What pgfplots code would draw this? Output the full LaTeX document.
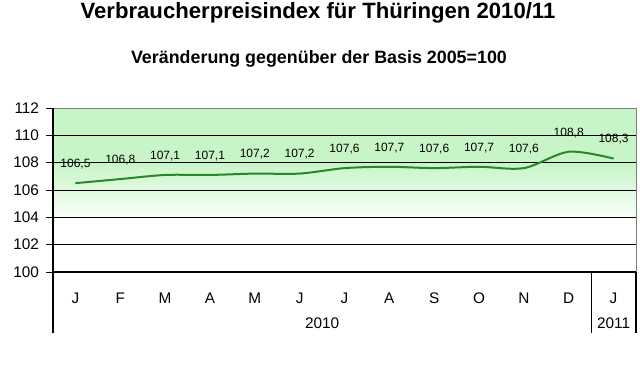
\documentclass[border=0pt]{standalone}
\usepackage{pgfplots}
\pgfplotsset{compat=1.18}
\usepackage{fontspec}
\setmainfont{Liberation Sans}
\definecolor{bggreen}{RGB}{200,245,200}
\definecolor{linegreen}{RGB}{40,135,40}
\begin{document}
\begin{tikzpicture}[x=0.75pt,y=0.75pt]
\path[use as bounding box] (0,0) rectangle (640,370);
\node[font=\bfseries\fontsize{16.6}{19}\selectfont] at (318,357) {Verbraucherpreisindex für Thüringen 2010/11};
\node[font=\bfseries\fontsize{13.4}{16}\selectfont] at (319,311) {Veränderung gegenüber der Basis 2005=100};
\begin{axis}[
  at={(53*0.75pt,98*0.75pt)}, anchor=south west,
  scale only axis, width=583*0.75pt, height=164*0.75pt,
  xmin=-0.5, xmax=12.5, ymin=100, ymax=112,
  ytick={100,102,...,112},
  ytick pos=left,
  xtick={0,...,12},
  xticklabels={J,F,M,A,M,J,J,A,S,O,N,D,J},
  x tick style={draw=none},
  tick align=outside,
  y tick style={black, line width=0.6pt},
  major tick length=5pt,
  axis line style={draw=none},
  tick label style={font=\fontsize{11.5}{13}\selectfont},
  /pgf/number format/assume math mode=true,
  yticklabel style={xshift=-2pt},
  xticklabel style={yshift=-7pt},
  clip=false,
  nodes near coords,
  every node near coord/.append style={font=\fontsize{9}{10}\selectfont, black, yshift=6.5pt},
  nodes near coords={\pgfmathprintnumber[fixed,fixed zerofill,precision=1,use comma]{\pgfplotspointmeta}},
]
\fill[bggreen] (axis cs:-0.5,108) rectangle (axis cs:12.5,112);
\fill[top color=bggreen, bottom color=white] (axis cs:-0.5,103.5) rectangle (axis cs:12.5,108);
\draw[black, line width=0.7pt] (axis cs:-0.5,102) -- (axis cs:12.5,102);
\draw[black, line width=0.7pt] (axis cs:-0.5,104) -- (axis cs:12.5,104);
\draw[black, line width=0.7pt] (axis cs:-0.5,106) -- (axis cs:12.5,106);
\draw[black, line width=0.7pt] (axis cs:-0.5,108) -- (axis cs:12.5,108);
\draw[black, line width=0.7pt] (axis cs:-0.5,110) -- (axis cs:12.5,110);
\draw[gray, line width=0.7pt] (axis cs:-0.5,112) -- (axis cs:12.5,112) -- (axis cs:12.5,100);
\draw[black, line width=0.8pt] (axis cs:-0.5,112) -- ([yshift=-61*0.75pt]axis cs:-0.5,100);
\draw[black, line width=0.8pt] (axis cs:12.5,100) -- ([yshift=-61*0.75pt]axis cs:12.5,100);
\draw[black, line width=0.8pt] (axis cs:11.5,100) -- ([yshift=-61*0.75pt]axis cs:11.5,100);
\draw[black, line width=0.8pt] (axis cs:-0.5,100) -- (axis cs:12.5,100);
\node[font=\fontsize{11.5}{13}\selectfont] at ([yshift=-51*0.75pt]axis cs:5.5,100) {2010};
\node[font=\fontsize{11.5}{13}\selectfont] at ([yshift=-51*0.75pt]axis cs:12,100) {2011};
\addplot[linegreen, line width=1.5pt, smooth, tension=0.5, mark=none] coordinates {
(0,106.5) (1,106.8) (2,107.1) (3,107.1) (4,107.2) (5,107.2) (6,107.6)
(7,107.7) (8,107.6) (9,107.7) (10,107.6) (11,108.8) (12,108.3)};
\end{axis}
\end{tikzpicture}
\end{document}
